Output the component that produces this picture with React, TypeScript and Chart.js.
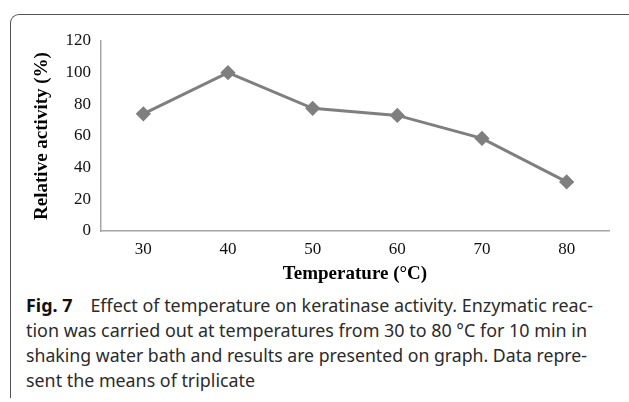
import React, { useEffect, useRef } from "react";
import { Chart, registerables } from "chart.js";

Chart.register(...registerables);

const temperatures = ["30", "40", "50", "60", "70", "80"];
const relativeActivity = [74, 100, 77.5, 73, 58.5, 31];
const yTicks = { min: 0, max: 120, step: 20 };
const xTitle = "Temperature (°C)";
const yTitle = "Relative activity (%)";
const captionLabel = "Fig. 7";
const captionLines = [
  "Effect of temperature on keratinase activity. Enzymatic reac-",
  "tion was carried out at temperatures from 30 to 80 °C for 10 min in",
  "shaking water bath and results are presented on graph. Data repre-",
  "sent the means of triplicate",
];

const serif = "'Liberation Serif', 'Times New Roman', serif";
const sans = "'Noto Sans', 'Open Sans', sans-serif";

export default function App() {
  const canvasRef = useRef<HTMLCanvasElement | null>(null);
  const lineRefs = useRef<(HTMLSpanElement | null)[]>([]);

  useEffect(() => {
    const canvas = canvasRef.current;
    if (!canvas) return;
    const chart = new Chart(canvas, {
      type: "line",
      data: {
        labels: temperatures,
        datasets: [
          {
            data: relativeActivity,
            borderColor: "#7f7f7f",
            backgroundColor: "#7f7f7f",
            borderWidth: 3,
            pointStyle: "rectRot",
            pointRadius: 5.5,
            pointBackgroundColor: "#7f7f7f",
            pointBorderColor: "#7f7f7f",
            tension: 0,
          },
        ],
      },
      options: {
        animation: false,
        responsive: false,
        layout: { padding: { left: 31, top: 41, right: 20, bottom: 0 } },
        plugins: { legend: { display: false }, tooltip: { enabled: false } },
        scales: {
          x: {
            type: "category",
            offset: true,
            grid: { drawOnChartArea: false, drawTicks: false },
            border: { display: true, color: "#a6a6a6", width: 1.5 },
            ticks: { color: "#111", padding: 8, font: { family: serif, size: 17 } },
            title: {
              display: true,
              text: xTitle,
              color: "#000",
              font: { family: serif, size: 19, weight: "bold" },
              padding: { top: 0, bottom: 5 },
            },
            afterFit: (s: any) => {
              s.height = 59;
            },
          },
          y: {
            min: yTicks.min,
            max: yTicks.max,
            grid: { drawOnChartArea: false, drawTicks: false },
            border: { display: true, color: "#a6a6a6", width: 1.5 },
            ticks: {
              stepSize: yTicks.step,
              color: "#111",
              padding: 10,
              font: { family: serif, size: 17 },
            },
            title: {
              display: true,
              text: yTitle,
              color: "#000",
              font: { family: serif, size: 19, weight: "bold" },
              padding: 0,
            },
            afterFit: (s: any) => {
              s.width = 70;
            },
          },
        },
      },
    });
    return () => chart.destroy();
  }, []);

  useEffect(() => {
    const targets = [593 - 26, 587 - 26, 587 - 26];
    const scales: number[] = [];
    lineRefs.current.forEach((el, i) => {
      if (!el) return;
      el.style.transform = "none";
      const w = el.getBoundingClientRect().width;
      if (i < targets.length && w > 0) scales[i] = targets[i] / w;
    });
    const avg = scales.length ? scales.reduce((a, b) => a + b, 0) / scales.length : 1;
    lineRefs.current.forEach((el, i) => {
      if (!el) return;
      const s = scales[i] ?? avg;
      el.style.transform = `scaleX(${s})`;
    });
  }, []);

  const baselines = [312, 337, 362, 387];

  return (
    <div
      style={{
        position: "absolute",
        left: 0,
        top: 0,
        width: 629,
        height: 402,
        background: "#fff",
        overflow: "hidden",
      }}
    >
      <div
        style={{
          position: "absolute",
          left: 10,
          top: 14,
          width: 660,
          height: 384,
          borderTop: "1.5px solid #555",
          borderLeft: "1.5px solid #555",
          borderTopLeftRadius: 9,
          boxSizing: "border-box",
        }}
      />
      <canvas
        ref={canvasRef}
        width={629}
        height={290}
        style={{ position: "absolute", left: 0, top: 0, width: 629, height: 290 }}
      />
      {captionLines.map((line, i) => (
        <div
          key={i}
          style={{
            position: "absolute",
            left: 26,
            top: baselines[i] - 16,
            whiteSpace: "nowrap",
            fontFamily: sans,
            fontSize: 18,
            lineHeight: "18px",
            color: "#2b2b2b",
          }}
        >
          <span
            ref={(el) => {
              lineRefs.current[i] = el;
            }}
            style={{ display: "inline-block", transformOrigin: "left center" }}
          >
            {i === 0 ? (
              <>
                <span style={{ fontWeight: "bold", color: "#111" }}>{captionLabel}</span>
                {"\u2003" + line}
              </>
            ) : (
              line
            )}
          </span>
        </div>
      ))}
    </div>
  );
}
